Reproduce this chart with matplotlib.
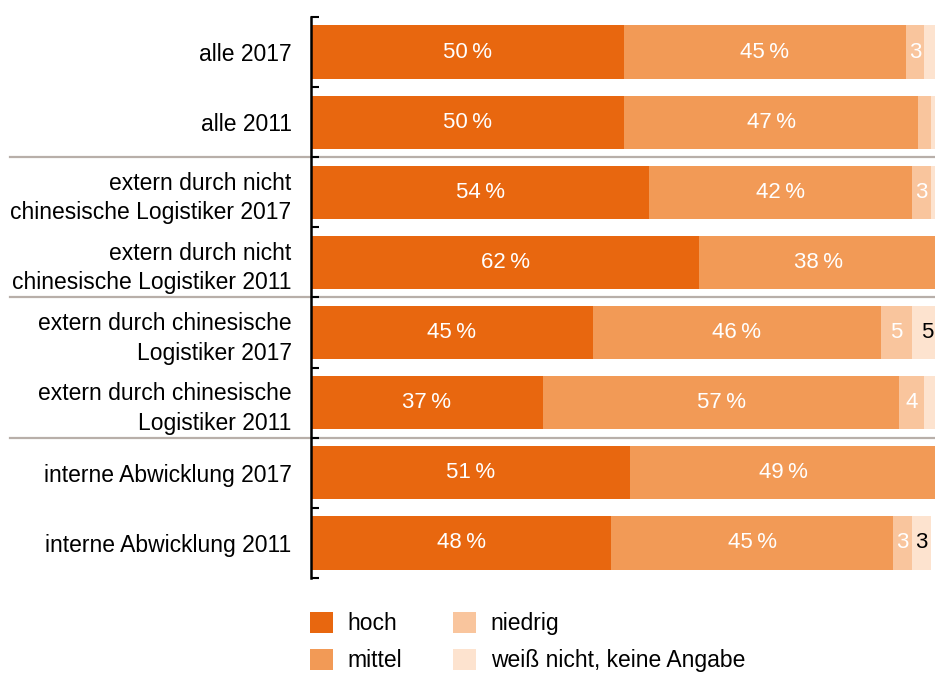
import matplotlib
matplotlib.use("Agg")
import matplotlib.pyplot as plt
from matplotlib.patches import Patch
from matplotlib.transforms import blended_transform_factory

plt.rcParams["font.family"] = ["Liberation Sans", "DejaVu Sans"]

# Survey shares per group (percent), top to bottom
categories = [
    "alle 2017",
    "alle 2011",
    "extern durch nicht\nchinesische Logistiker 2017",
    "extern durch nicht\nchinesische Logistiker 2011",
    "extern durch chinesische\nLogistiker 2017",
    "extern durch chinesische\nLogistiker 2011",
    "interne Abwicklung 2017",
    "interne Abwicklung 2011",
]
hoch = [50, 50, 54, 62, 45, 37, 51, 48]
mittel = [45, 47, 42, 38, 46, 57, 49, 45]
niedrig = [3, 2, 3, 0, 5, 4, 0, 3]
keine_angabe = [2, 1, 1, 0, 5, 2, 0, 3]

series_names = ["hoch", "mittel", "niedrig", "weiß nicht, keine Angabe"]
colors = ["#e8670f", "#f29a56", "#f9c59d", "#fde3cf"]
group_breaks = [1.5, 3.5, 5.5]

FS = 16.5

fig = plt.figure(figsize=(9.35, 6.73), dpi=100)
ax = fig.add_axes([311 / 935, 1 - 578 / 673, (937 - 311) / 935, (578 - 17) / 673])

series = [hoch, mittel, niedrig, keine_angabe]
ypos = list(range(len(categories)))
left = [0] * len(categories)
for k, (vals, col) in enumerate(zip(series, colors)):
    ax.barh(ypos, vals, left=left, height=0.76, color=col, edgecolor="none")
    for i, v in enumerate(vals):
        if v >= 3:
            txt = f"{v}\u2009%" if k < 2 else f"{v}"
            tcol = "black" if k == 3 else "white"
            ax.text(left[i] + v / 2, i, txt, ha="center", va="center",
                    color=tcol, fontsize=16)
    left = [l + v for l, v in zip(left, vals)]

ax.set_xlim(0, 100)
ax.set_ylim(7.5, -0.5)
ax.set_xticks([])
ax.set_yticks(ypos)
ax.set_yticklabels(categories, fontsize=FS, linespacing=1.36)
ax.set_yticks([y - 0.5 for y in range(len(categories) + 1)], minor=True)
ax.tick_params(axis="y", which="major", length=0, pad=14)
ax.tick_params(axis="y", which="minor", direction="in", length=6, width=1.5,
               color="black")
for s in ("top", "right", "bottom"):
    ax.spines[s].set_visible(False)
ax.spines["left"].set_linewidth(1.8)

# group separators running across labels and bars
trans = blended_transform_factory(fig.transFigure, ax.transData)
for yb in group_breaks:
    ax.plot([10 / 935, 1.0], [yb, yb], color="#b8afa9", lw=1.6,
            transform=trans, clip_on=False, zorder=0)

handles = [Patch(facecolor=c, edgecolor="none") for c in colors]
fig.legend(handles, series_names, loc="upper left",
           bbox_to_anchor=(310 / 935, 1 - 612 / 673), ncol=2, frameon=False,
           fontsize=FS, handlelength=1.0, handleheight=1.0,
           handletextpad=0.65, columnspacing=2.2, labelspacing=0.62,
           borderpad=0, borderaxespad=0)

fig.savefig("out.png", dpi=100)
